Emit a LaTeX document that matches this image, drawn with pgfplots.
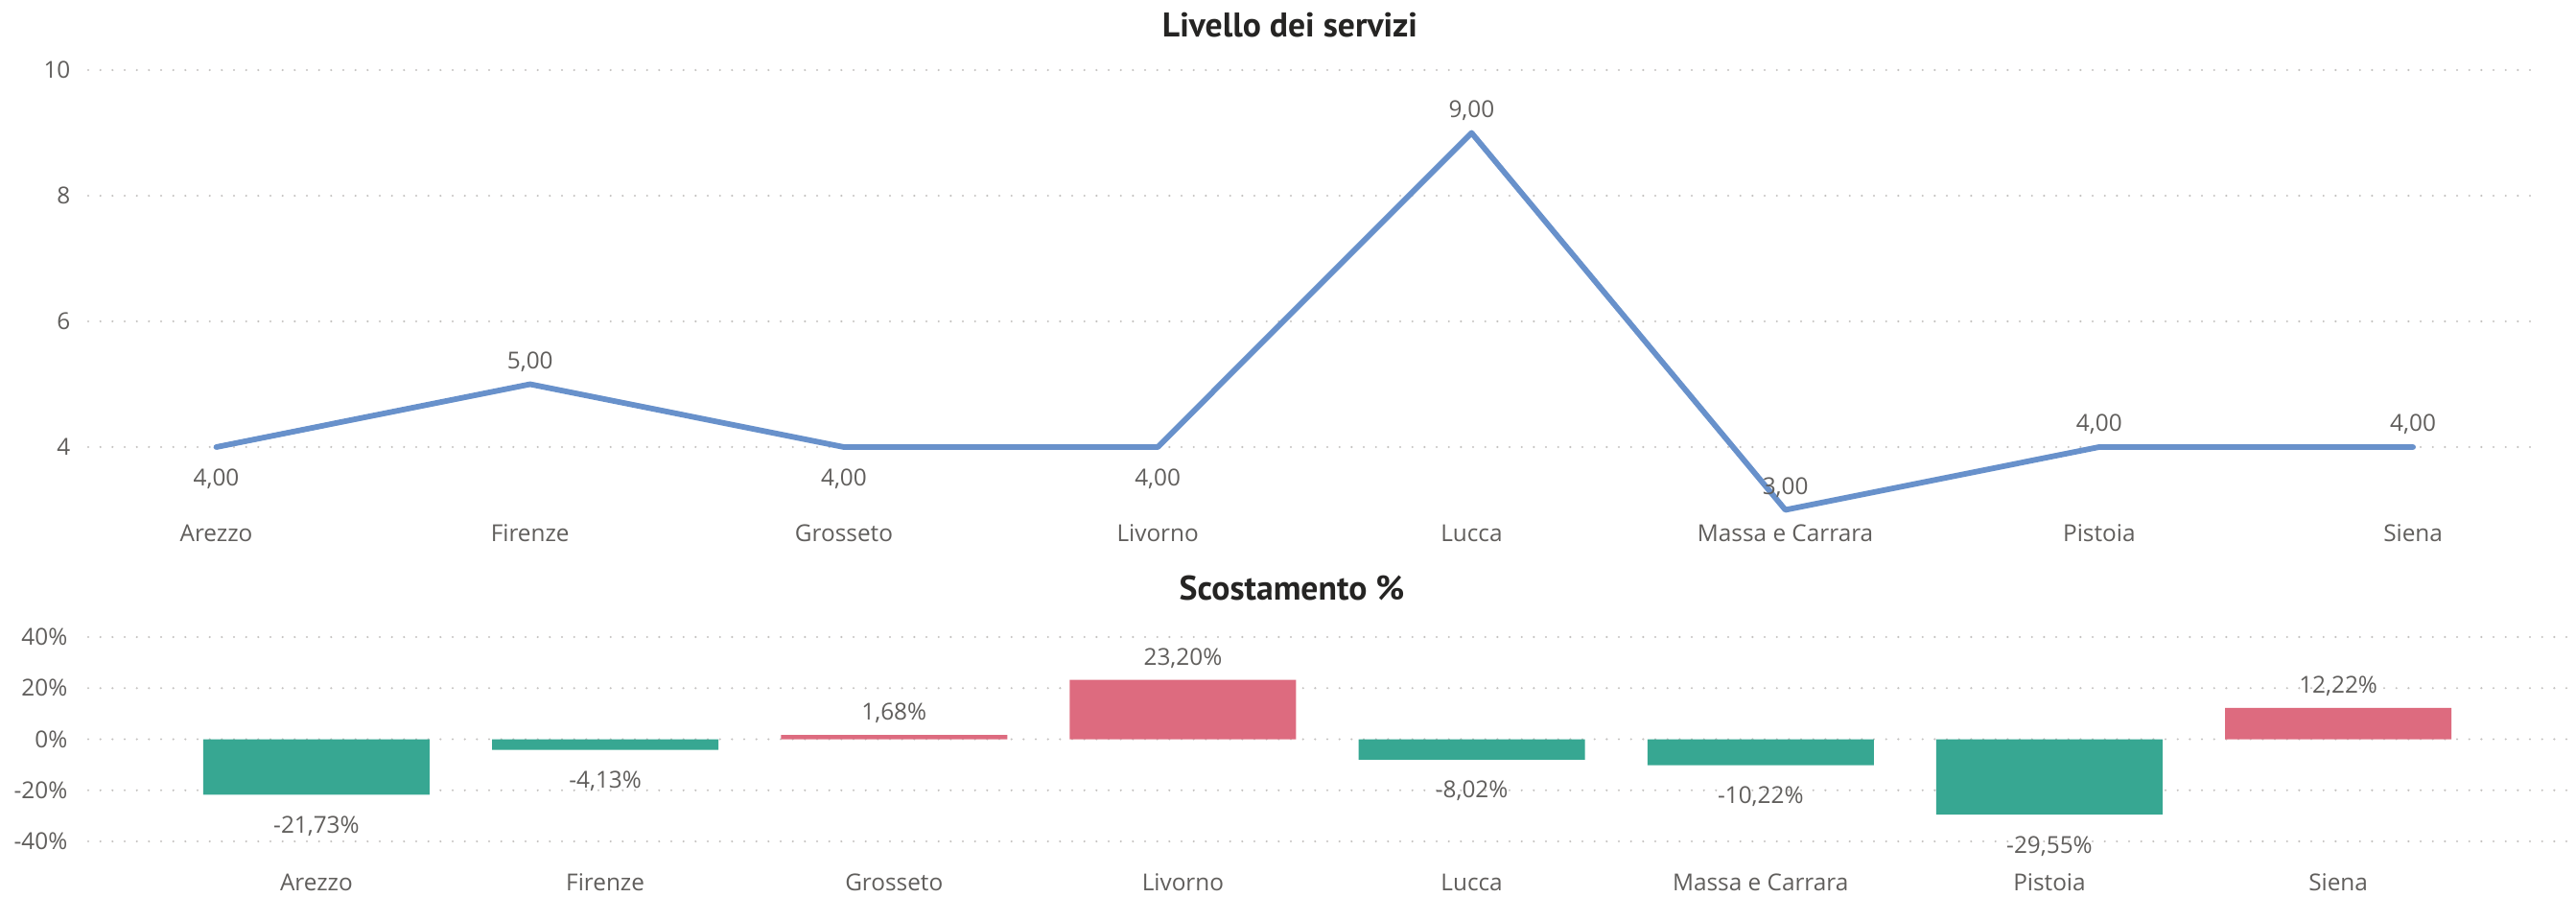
\documentclass[border=0pt]{standalone}
\usepackage{fontspec}
\setmainfont{Open Sans}
\newfontfamily\titlefont{PT Sans}
\usepackage{pgfplots}
\pgfplotsset{compat=1.18}
\definecolor{lab}{RGB}{96,94,92}
\definecolor{ttl}{RGB}{37,36,35}
\definecolor{gridc}{RGB}{196,194,192}
\definecolor{lineblue}{RGB}{104,145,203}
\definecolor{bargreen}{RGB}{55,167,146}
\definecolor{barred}{RGB}{221,107,127}
\newcommand\lf{\fontsize{7.3}{8.8}\selectfont}
\pgfplotsset{
  rb/.style={
    scale only axis,
    anchor=south west,
    axis x line=bottom, axis y line=left,
    axis line style={draw=none},
    major tick length=0pt,
    ymajorgrids,
    grid style={gridc, line width=0.7pt, line cap=round, dash pattern=on 0pt off 3.8pt},
    tick label style={font=\lf, text=lab},
    xtick={0,...,7},
    xticklabels={Arezzo,Firenze,Grosseto,Livorno,Lucca,Massa e Carrara,Pistoia,Siena},
    xticklabel style={anchor=base, yshift=-9.9pt, inner sep=0pt},
    clip=false,
    /pgf/number format/assume math mode=true,
  }
}
\begin{document}
\begin{tikzpicture}
\useasboundingbox (0,0) rectangle (805.8pt,280.5pt);
% ---------- top: line chart ----------
\begin{axis}[rb, at={(27.6pt,121.05pt)}, width=765.3pt, height=137.55pt,
  xmin=-0.408, xmax=7.388, ymin=3, ymax=10,
  ytick={4,6,8,10}, yticklabels={4,6,8,10},
  yticklabel style={anchor=east, inner sep=0pt, xshift=-5.4pt}]
\addplot[lineblue, line width=1.75pt, line join=round, line cap=round] table {
x y
0 4
1 5
2 4
3 4
4 9
5 3
6 4
7 4
};
\addplot[draw=none, nodes near coords, point meta=explicit symbolic,
  every node near coord/.append style={font=\lf, text=lab, anchor=base, inner sep=0pt, yshift=4.8pt}]
  table[meta=lab] {
x y lab
1 5 5,00
4 9 9,00
5 3 3,00
6 4 4,00
7 4 4,00
};
\addplot[draw=none, nodes near coords, point meta=explicit symbolic,
  every node near coord/.append style={font=\lf, text=lab, anchor=base, inner sep=0pt, yshift=-12.3pt}]
  table[meta=lab] {
x y lab
0 4 4,00
2 4 4,00
3 4 4,00
};
\end{axis}
% ---------- bottom: bar chart ----------
\begin{axis}[rb, at={(27.6pt,11.8pt)}, width=775.2pt, height=69.5pt,
  xmin=-0.79, xmax=7.79, ymin=-47, ymax=40,
  ytick={-40,-20,0,20,40}, yticklabels={-40\%,-20\%,0\%,20\%,40\%},
  yticklabel style={anchor=east, inner sep=0pt, xshift=-6.3pt}]
\addplot[ybar, bar width=70.8pt, bar shift=0pt, fill=bargreen, draw=none,
  nodes near coords, point meta=explicit symbolic,
  every node near coord/.append style={font=\lf, text=lab, anchor=base, inner sep=0pt, yshift=-12pt}]
  table[meta=lab] {
x y lab
0 -21.73 -21,73\%
1 -4.13 -4,13\%
4 -8.02 -8,02\%
5 -10.22 -10,22\%
6 -29.55 -29,55\%
};
\addplot[ybar, bar width=70.8pt, bar shift=0pt, fill=barred, draw=none,
  nodes near coords, point meta=explicit symbolic,
  every node near coord/.append style={font=\lf, text=lab, anchor=base, inner sep=0pt, yshift=4.7pt}]
  table[meta=lab] {
x y lab
2 1.68 1,68\%
3 23.20 23,20\%
7 12.22 12,22\%
};
\end{axis}
% ---------- titles ----------
\node[anchor=base, inner sep=0pt, text=ttl, font=\titlefont\bfseries\fontsize{10.7}{12}\selectfont] at (403.5pt,268.95pt) {Livello dei servizi};
\node[anchor=base, inner sep=0pt, text=ttl, font=\titlefont\bfseries\fontsize{10.7}{12}\selectfont] at (404.1pt,92.85pt) {Scostamento \%};
\end{tikzpicture}
\end{document}
